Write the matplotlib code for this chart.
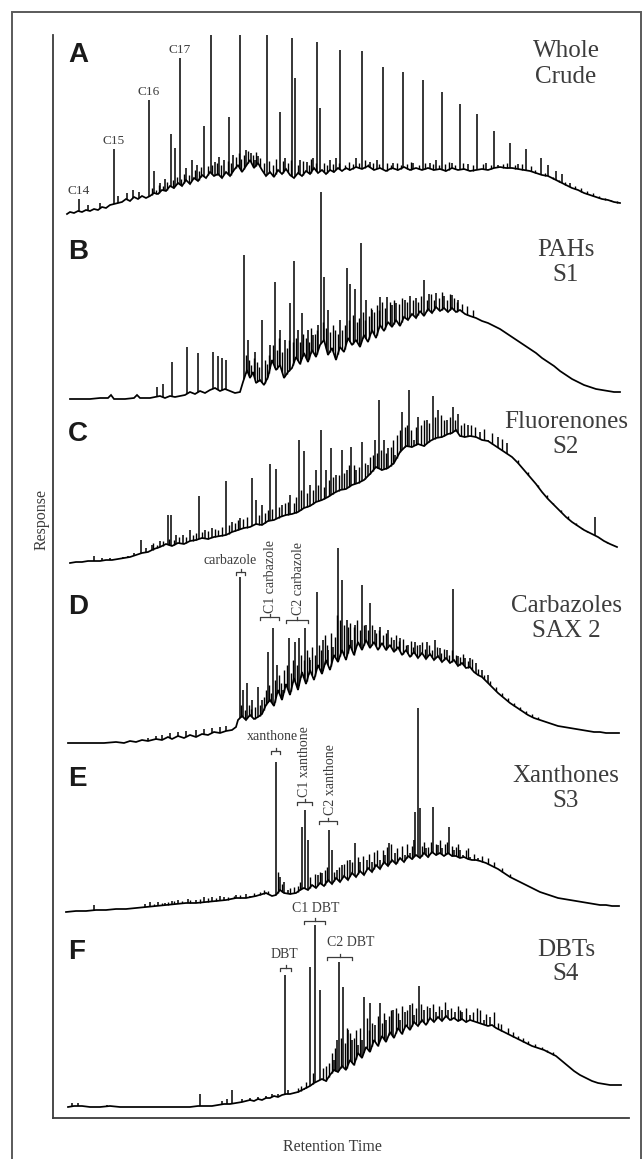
import numpy as np
import matplotlib
matplotlib.use("Agg")
import matplotlib.pyplot as plt
from matplotlib.patches import Rectangle

# ---------------- data: (retention time, response) ----------------
A_BASE = [(17,1),(20,3),(24,2),(28,4),(32,3),(36,5),(40,4),(44,6),(48,5),(52,8),(56,7),(60,10),(64,11),(68,12),(72,13),
          (76,16),(80,14),(84,18),(88,16),(92,19),(96,17),(100,19),(104,22),(108,21),(112,25),(116,24),(120,29),(124,27),
          (128,32),(132,29),(136,35),(140,31),(144,37),(148,34),(152,40),(156,37),(160,43),(164,39),(168,41),(172,37),
          (176,43),(180,39),(184,45),(188,50),(192,43),(196,49),(200,55),(204,47),(208,52),(212,45),(216,39),(220,43),
          (224,38),(228,45),(232,41),(236,46),(240,40),(244,37),(248,42),(252,39),(256,44),(260,41),(264,47),(268,42),
          (272,45),(276,41),(280,45),(284,43),(288,47),(292,44),(296,47),(300,45),(306,48),(312,46),(318,49),(324,45),
          (330,47),(336,44),(342,47),(348,45),(354,48),(360,45),(366,47),(372,45),(378,47),(384,45),(390,46),(396,44),
          (402,47),(408,45),(414,46),(420,44),(426,45),(432,46),(438,45),(444,47),(450,48),(456,47),(462,47),(468,46),
          (474,45),(480,44),(486,42),(492,40),(498,39),(504,36),(510,33),(516,30),(522,27),(528,25),(534,22),(540,20),
          (546,18),(552,16),(558,15),(564,13),(570,12)]
A_PEAKS = [(29,16),(64,66),(99,115),(130,157),(161,180),(190,192),(217,181),(242,177),(267,173),(290,165),(312,164),
           (333,148),(353,143),(373,135),(392,123),(410,111),(427,101),(444,84),(460,72),(476,66),(491,57),(498,50),
           (506,44),(512,41),(520,32),
           (104,44),(121,81),(125,67),(154,89),(179,98),(230,103),(245,137),(270,107),
           (38,10),(50,12),(68,19),(77,22),(83,25),(89,23),(110,32),(115,36),(136,47),(142,55),(147,50),(165,53),
           (169,58),(174,55),(183,60),(196,65),(201,62),(205,55),(208,59),(235,57),(250,55),(257,53),(263,57),
           (280,55),(286,57),(306,57),(320,53),(327,55),(343,52),(363,52),(380,52),(386,55),(402,52),(418,51),
           (436,52),(448,50),(468,51)]
A_NOISE = [(102,27),(106,25),(109,30),(113,29),(117,33),(123,35),(127,38),(131,36),(134,41),(139,40),(145,45),(149,44),
           (151,48),(158,49),(162,50),(167,52),(171,50),(178,54),(181,52),(186,58),(189,62),(191,56),(194,60),(198,64),
           (203,60),(206,63),(210,57),(214,52),(219,54),(223,50),(226,56),(233,54),(238,52),(241,55),(248,50),(253,54),
           (259,50),(261,56),(266,52),(274,52),(277,50),(283,51),(289,52),(295,50),(299,53),(303,51),(309,52),(315,55),
           (318,51),(323,52),(329,51),(337,52),(341,50),(347,52),(351,50),(357,51),(361,53),(369,50),(375,52),(383,51),
           (389,50),(395,51),(399,53),(405,50),(413,52),(423,50),(433,51),(441,50),(453,51),(457,52),(465,50),(472,51),
           (481,49),(485,45),(495,42),(503,38),(509,35),(515,33),(525,29),(531,27),(537,24),(543,22),(549,19),(555,17),
           (561,15),(567,14)]
A_ALKANES = ["C14", "C15", "C16", "C17"]

B_BASE = [(20,1),(30,1),(40,1),(50,2),(58,2),(61,5),(64,1),(75,1),(84,2),(87,5),(90,2),(100,2),(105,3),(110,4),(115,2),
          (120,4),(125,3),(130,4),(135,5),(140,8),(145,6),(150,9),(155,7),(160,10),(165,12),(170,9),(175,11),(180,9),
          (185,7),(190,8),(193,18),(197,30),(200,22),(203,28),(206,17),(210,20),(214,15),(218,23),(222,40),(226,30),
          (230,35),(234,22),(238,28),(242,32),(246,43),(250,36),(254,47),(258,38),(262,50),(266,43),(270,55),(274,60),
          (278,45),(282,52),(286,40),(290,53),(294,48),(298,62),(302,55),(306,60),(310,53),(314,65),(318,58),(322,70),
          (326,62),(330,75),(334,69),(338,78),(342,73),(346,80),(350,74),(354,83),(358,80),(362,86),(366,82),(370,89),
          (374,84),(378,91),(382,87),(386,93),(390,89),(394,92),(398,88),(402,92),(406,88),(410,90),(415,86),(420,84),
          (426,82),(432,79),(438,77),(444,74),(450,71),(456,67),(462,63),(468,59),(474,55),(480,51),(486,47),(492,42),
          (498,38),(504,34),(510,29),(516,25),(522,21),(528,18),(534,15),(540,13),(546,11),(552,10),(558,9),(564,8),
          (570,8)]
B_PEAKS = [(107,13),(113,16),(122,38),(137,53),(148,47),(163,48),(168,44),(172,42),(176,40),(194,145),(198,60),
           (205,48),(212,80),(220,55),(225,118),(230,70),(235,60),(240,97),(244,139),(248,70),(252,87),(258,70),
           (263,65),(268,75),(271,208),(274,123),(278,90),(290,80),(297,132),(300,116),(305,111),(311,157),(316,100),
           (322,90),(330,103),(337,103),(342,95),(346,97),(355,100),(360,104),(366,102),(374,120),(379,106),(386,107),
           (394,104),(402,105),(408,100)]
B_NOISE = [(196,45),(199,40),(201,35),(204,42),(207,38),(209,33),(215,40),(217,36),(219,45),(223,55),(227,50),(229,62),
           (232,48),(237,52),(239,60),(243,58),(246,62),(250,58),(253,66),(256,62),(259,58),(261,72),(265,66),(267,70),
           (273,78),(276,72),(280,68),(283,75),(285,70),(288,66),(292,70),(295,75),(299,80),(303,85),(307,78),(309,82),
           (313,88),(315,80),(319,84),(321,92),(324,88),(327,95),(329,90),(332,98),(335,92),(340,98),(344,100),(349,96),
           (352,102),(357,98),(363,100),(368,98),(371,104),(377,100),(381,106),(384,100),(389,102),(392,108),(397,100),
           (400,106),(404,102),(407,98),(412,96),(417,94),(423,90)]

C_BASE = [(20,2),(26,3),(32,3),(38,4),(44,4),(50,4),(56,5),(62,5),(68,6),(74,7),(80,8),(86,10),(92,12),(98,13),
          (104,16),(110,18),(116,21),(122,19),(128,22),(134,21),(140,24),(146,25),(152,27),(158,26),(164,28),(170,29),
          (176,30),(182,33),(188,35),(194,37),(200,38),(206,41),(212,40),(218,44),(224,45),(230,48),(236,50),(242,51),
          (248,53),(254,57),(260,59),(266,63),(272,65),(278,68),(284,72),(290,75),(296,76),(302,80),(308,82),(314,85),
          (320,91),(326,98),(332,95),(338,97),(344,102),(350,113),(356,119),(362,118),(368,121),(374,119),(380,124),
          (386,127),(392,128),(398,131),(402,132),(406,135),(410,129),(415,128),(420,129),(426,128),(432,125),(438,124),
          (444,120),(450,116),(456,112),(462,108),(468,102),(474,95),(480,88),(486,81),(492,73),(498,66),(504,60),
          (510,54),(516,48),(522,43),(528,39),(534,35),(540,32),(544,30),(548,28),(554,24),(560,21),(567,18)]
C_PEAKS = [(44,9),(52,7),(60,7),(73,8),(78,9),(84,12),(91,25),(96,17),(102,20),(110,24),(118,50),(121,50),(126,30),
           (133,30),(140,35),(149,69),(155,35),(162,37),(176,84),(182,43),(190,47),(202,87),(206,65),(212,60),(220,101),
           (226,96),(232,60),(240,70),(249,125),(254,114),(260,80),(266,95),(271,135),(276,95),(281,117),(286,90),
           (292,115),(297,95),(301,118),(306,95),(312,123),(318,100),(325,125),(329,165),(334,125),(338,117),(345,110),
           (352,153),(359,175),(364,125),(368,148),(377,145),(383,169),(388,155),(397,145),(403,158),(408,151),
           (418,140),(430,133),(438,125),(448,128),(457,122),(545,48)]
C_NOISE = [(103,22),(107,20),(113,24),(119,26),(124,25),(129,28),(136,28),(143,30),(146,32),(152,33),(158,34),(165,36),
           (168,35),(172,38),(179,40),(185,42),(188,45),(193,46),(197,48),(209,50),(215,52),(218,55),(222,56),(229,58),
           (235,62),(238,63),(244,62),(246,68),(251,75),(257,72),(263,75),(268,80),(274,78),(279,85),(283,88),(289,90),
           (294,92),(299,100),(304,100),(309,98),(315,102),(320,108),(323,110),(327,112),(331,115),(336,112),(341,118),
           (343,125),(347,130),(350,135),(355,138),(357,140),(361,135),(366,138),(371,140),(374,145),(379,142),(385,148),
           (391,150),(394,145),(400,148),(405,145),(411,140),(414,142),(421,140),(425,138),(434,136),(442,132),(452,126),
           (468,105),(478,93),(488,80),(497,70),(503,62),(511,55),(518,49),(526,42),(532,37),(537,34),(550,27),
           (557,23),(563,20)]

D_BASE = [(18,2),(30,2),(42,2),(54,2),(66,3),(74,2),(80,4),(86,3),(92,5),(98,4),(106,6),(112,5),(118,8),(122,6),(128,9),
          (134,7),(140,10),(146,8),(152,11),(158,10),(164,13),(170,12),(176,14),(182,15),(186,18),(188,25),(192,29),
          (196,25),(200,30),(204,26),(208,28),(212,31),(216,40),(220,45),(224,39),(228,55),(232,45),(236,61),(240,50),
          (244,67),(248,55),(252,73),(256,61),(260,75),(264,65),(268,80),(272,71),(276,85),(280,75),(284,90),(288,83),
          (292,95),(296,85),(300,100),(304,90),(308,103),(312,95),(316,105),(320,97),(324,103),(328,95),(332,102),
          (336,95),(340,100),(344,93),(348,98),(352,90),(356,95),(360,88),(364,93),(368,87),(372,92),(376,86),(380,91),
          (384,85),(388,89),(392,83),(396,87),(400,82),(404,85),(408,79),(412,82),(416,77),(420,78),(424,73),(428,70),
          (432,68),(436,64),(440,60),(444,56),(448,52),(454,47),(460,42),(466,38),(472,34),(478,30),(484,27),(490,25),
          (496,23),(502,21),(508,19),(514,18),(520,17),(526,16),(532,15),(538,14),(544,13),(550,13),(556,12),(562,12),
          (569,12)]
D_PEAKS = [(98,7),(106,9),(112,10),(120,12),(128,13),(136,14),(146,15),(154,16),(162,17),(170,18),(176,19),(190,168),
           (193,55),(197,62),(202,45),(208,58),(212,45),(218,93),(223,117),(227,80),(233,55),(239,107),(245,103),
           (249,107),(255,117),(260,85),(267,153),(273,105),(278,95),(283,98),(288,197),(292,165),(297,125),(302,105),
           (305,120),(312,160),(316,120),(320,142),(325,115),(330,118),(338,115),(344,105),(350,107),(358,100),
           (365,103),(370,100),(377,103),(385,105),(390,97),(397,95),(403,156),(408,89),(415,87),(420,87),(426,82),
           (432,75),(438,70)]
D_NOISE = [(191,40),(195,35),(199,40),(201,36),(205,38),(210,40),(214,48),(216,55),(219,60),(221,52),(225,65),(229,70),
           (231,62),(234,75),(237,80),(241,72),(243,85),(247,80),(251,90),(254,85),(257,95),(259,88),(262,98),(265,90),
           (269,100),(271,95),(275,110),(277,100),(281,112),(285,108),(287,130),(290,125),(294,120),(298,118),(300,122),
           (304,118),(307,125),(310,115),(314,120),(318,115),(322,120),(326,112),(329,115),(333,110),(336,112),(341,108),
           (346,110),(349,104),(353,106),(356,100),(361,104),(363,98),(367,100),(372,103),(375,96),(379,100),(382,95),
           (387,98),(391,92),(394,96),(399,90),(402,95),(406,90),(410,88),(413,91),(418,84),(422,86),(428,76),(434,70),
           (440,64),(446,58),(452,52),(458,47),(464,42),(470,38),(476,34),(482,31),(488,28)]

E_BASE = [(16,0),(26,1),(36,1),(46,2),(56,2),(66,3),(76,3),(86,4),(96,5),(106,6),(116,7),(126,8),(136,9),(146,9),
          (156,10),(166,11),(176,12),(186,14),(196,14),(206,16),(216,19),(222,16),(226,17),(230,22),(234,19),(240,18),
          (246,19),(250,22),(254,24),(258,22),(262,27),(266,24),(270,29),(274,26),(278,32),(282,28),(286,34),(290,30),
          (294,36),(298,32),(302,39),(306,35),(310,41),(314,37),(318,44),(322,40),(326,47),(330,43),(334,50),(338,46),
          (342,52),(346,48),(350,54),(354,50),(358,56),(362,53),(366,57),(370,54),(374,59),(378,55),(382,60),(386,57),
          (390,59),(394,56),(398,59),(402,56),(406,56),(410,54),(414,55),(418,53),(422,52),(426,52),(430,51),(436,49),
          (442,46),(448,43),(454,39),(460,35),(466,32),(472,29),(478,26),(484,23),(490,20),(496,18),(502,16),(508,14),
          (514,13),(520,12),(526,11),(532,10),(538,9),(544,8),(550,7),(556,7),(562,6),(569,6)]
E_PEAKS = [(44,7),(62,3),(80,4),(95,8),(100,10),(108,10),(115,9),(122,11),(128,12),(138,13),(146,12),(154,15),(162,15),
           (170,16),(174,15),(186,17),(196,18),(200,16),(226,150),(230,35),(234,30),(238,22),(252,85),(255,102),(258,72),
           (263,27),(268,37),(272,39),(279,82),(282,62),(287,42),(292,47),(300,52),(305,69),(310,50),(317,52),(322,50),
           (330,52),(335,57),(339,69),(345,59),(350,54),(355,57),(360,59),(364,72),(365,100),(368,204),(370,104),
           (376,64),(383,105),(388,67),(392,64),(399,85),(404,62),(410,62),(413,57),(420,55),(428,54)]
E_NOISE = [(104,8),(112,9),(118,10),(124,11),(132,11),(140,12),(150,13),(158,14),(166,14),(178,15),(184,16),(190,17),
           (204,19),(210,20),(214,22),(218,21),(228,40),(232,28),(240,24),(244,25),(248,26),(250,30),(260,35),(265,38),
           (270,40),(275,42),(277,45),(284,40),(289,45),(294,48),(297,52),(302,50),(308,55),(313,56),(319,58),(324,60),
           (327,62),(333,62),(337,65),(341,68),(347,64),(352,66),(357,68),(362,66),(372,66),(374,70),(378,65),(381,70),
           (386,68),(390,72),(395,68),(397,70),(402,66),(406,65),(408,68),(416,62),(418,64),(424,58),(432,56),(438,54),
           (444,50),(452,44),(460,38)]

F_BASE = [(18,1),(24,2),(32,2),(40,1),(50,1),(60,2),(70,1),(80,1),(90,1),(100,1),(110,1),(120,1),(130,1),(140,1),(148,2),
          (156,2),(162,2),(168,3),(174,4),(180,4),(186,5),(192,6),(196,7),(200,8),(204,7),(208,9),(212,8),(216,10),
          (220,10),(224,12),(228,11),(232,13),(236,14),(240,14),(244,15),(248,16),(252,18),(256,20),(260,22),(264,25),
          (268,27),(272,29),(276,27),(280,33),(284,38),(288,36),(292,42),(296,38),(300,48),(304,43),(308,55),(312,50),
          (316,61),(320,56),(324,68),(328,62),(332,72),(336,66),(340,76),(344,70),(348,80),(352,74),(356,83),(360,78),
          (364,86),(368,82),(372,88),(376,83),(380,90),(384,86),(388,91),(392,87),(396,92),(400,88),(404,90),(408,87),
          (412,89),(416,86),(420,88),(426,86),(432,84),(438,82),(442,83),(446,80),(452,77),(458,74),(464,71),(470,68),
          (476,65),(482,62),(488,60),(494,58),(500,55),(506,52),(512,47),(518,42),(524,37),(530,33),(536,30),(542,27),
          (548,25),(554,24),(560,23),(565,23),(571,23)]
F_PEAKS = [(22,5),(28,5),(57,3),(150,14),(172,7),(177,9),(182,18),(192,9),(200,10),(208,11),(216,12),(222,14),(228,14),
           (235,133),(238,18),(245,16),(254,18),(260,141),(265,183),(270,118),(284,48),(287,68),(289,146),(293,121),
           (298,78),(302,68),(308,63),(312,68),(314,111),(320,105),(325,83),(330,105),(336,88),(343,98),(350,88),
           (355,96),(360,103),(364,93),(369,122),(374,98),(380,100),(386,96),(392,98),(398,98),(405,96),(412,96),
           (420,93),(434,88),(440,91)]
F_NOISE = [(248,20),(251,22),(256,26),(263,35),(273,40),(276,42),(279,45),(282,55),(285,60),(291,70),(295,65),(297,80),
           (300,75),(304,70),(306,78),(310,80),(317,90),(319,78),(322,85),(328,92),(332,85),(334,95),(339,92),(341,98),
           (346,100),(348,95),(352,102),(357,98),(362,105),(366,100),(371,104),(377,102),(383,104),(389,102),(395,106),
           (401,100),(408,102),(410,98),(416,100),(423,96),(427,100),(430,98),(436,94),(444,96),(448,85),(451,84),
           (458,80),(463,76),(468,72),(473,70),(478,67),(485,64),(492,61),(497,58),(503,56)]

LETTERS = ["A", "B", "C", "D", "E", "F"]
TITLES = [("Whole", "Crude"), ("PAHs", "S1"), ("Fluorenones", "S2"),
          ("Carbazoles", "SAX 2"), ("Xanthones", "S3"), ("DBTs", "S4")]

# compound-group labels: (panel, text, label rt, label response, bracket rt start, bracket rt end, bracket response, rotated)
GROUPS = [
    ("D", "carbazole",    180, 185, 186, 195, 173, False),
    ("D", "C1 carbazole", 221, 132, 210, 229, 128, True),
    ("D", "C2 carbazole", 248, 130, 236, 258, 125, True),
    ("E", "xanthone",     222, 175, 221, 230, 161, False),
    ("E", "C1 xanthone",  255, 115, 247, 262, 110, True),
    ("E", "C2 xanthone",  281,  97, 269, 287,  91, True),
    ("F", "DBT",          234, 154, 230, 241, 140, False),
    ("F", "C1 DBT",       266, 200, 254, 275, 187, False),
    ("F", "C2 DBT",       301, 165, 277, 302, 151, False),
]

# ---------------- layout ----------------
W, H = 643, 1159
OFFSETS = {"A": 903, "B": 718, "C": 553, "D": 373, "E": 206, "F": 10}
LETTER_Y = {"A": 160, "B": 148, "C": 131, "D": 138, "E": 133, "F": 156}
TITLE_Y = {"A": (164, 138), "B": (150, 125), "C": (143, 118),
           "D": (139, 114), "E": (136, 111), "F": (158, 134)}

SERIF = ["Liberation Serif", "DejaVu Serif"]
SANS = ["Liberation Sans", "DejaVu Sans"]
LABEL_COLOR = "#3c3c3c"

fig = plt.figure(figsize=(W / 100, H / 100), dpi=100)
fig.add_artist(Rectangle((12 / W, -0.02), 629 / W, 1 - 12 / H + 0.02,
                         transform=fig.transFigure, fill=False, ec="#5a5a5a", lw=1.4))

ax = fig.add_axes([53 / W, 1 - 1118 / H, 576 / W, 1083 / H])
ax.set_xlim(3, 579)
ax.set_ylim(0, 1083)
for s in ("top", "right"):
    ax.spines[s].set_visible(False)
for s in ("left", "bottom"):
    ax.spines[s].set_color("#3a3a3a")
    ax.spines[s].set_linewidth(1.3)
ax.set_xticks([])
ax.set_yticks([])

DATA = {"A": (A_BASE, A_PEAKS, A_NOISE), "B": (B_BASE, B_PEAKS, B_NOISE),
        "C": (C_BASE, C_PEAKS, C_NOISE), "D": (D_BASE, D_PEAKS, D_NOISE),
        "E": (E_BASE, E_PEAKS, E_NOISE), "F": (F_BASE, F_PEAKS, F_NOISE)}

for letter, (title1, title2) in zip(LETTERS, TITLES):
    base, peaks, noise = DATA[letter]
    off = OFFSETS[letter]
    bx, by = (np.array(v, dtype=float) for v in zip(*base))
    ax.plot(bx, by + off, color="black", lw=1.25, solid_joinstyle="miter")
    for series, lw in ((peaks, 1.1), (noise, 1.0)):
        px, py = (np.array(v, dtype=float) for v in zip(*series))
        ax.vlines(px, np.interp(px, bx, by) + off, py + off, color="black", lw=lw)
    ax.text(18, LETTER_Y[letter] + off, letter, fontsize=20, fontweight="bold",
            family=SANS, ha="left", va="center", color="#1a1a1a")
    ax.text(516, TITLE_Y[letter][0] + off, title1, fontsize=18, family=SERIF,
            ha="center", va="center", color=LABEL_COLOR)
    ax.text(516, TITLE_Y[letter][1] + off, title2, fontsize=18, family=SERIF,
            ha="center", va="center", color=LABEL_COLOR)

# alkane labels over the first four n-alkane peaks of the whole crude
for name, (prt, pr) in zip(A_ALKANES, A_PEAKS[:4]):
    ax.text(prt, pr + OFFSETS["A"] + 2, name, fontsize=9.5, family=SERIF,
            ha="center", va="bottom", color=LABEL_COLOR)

for panel, text, trt, tr, b1, b2, br, rot in GROUPS:
    off = OFFSETS[panel]
    yb = br + off
    xc = (b1 + b2) / 2
    ax.plot([b1, b1, b2, b2], [yb - 3, yb, yb, yb - 3], color=LABEL_COLOR, lw=0.9)
    ax.plot([xc, xc], [yb, yb + 3], color=LABEL_COLOR, lw=0.9)
    if rot:
        ax.text(trt, tr + off, text, fontsize=10, family=SERIF, rotation=90,
                ha="center", va="bottom", color=LABEL_COLOR)
    else:
        ax.text(trt, tr + off, text, fontsize=10, family=SERIF,
                ha="center", va="center", color=LABEL_COLOR)

fig.text(42 / W, 1 - 520 / H, "Response", rotation=90, fontsize=11.5, family=SERIF,
         ha="center", va="center", color=LABEL_COLOR)
fig.text(332 / W, 1 - 1147 / H, "Retention Time", fontsize=11.5, family=SERIF,
         ha="center", va="center", color=LABEL_COLOR)

fig.savefig("out.png", dpi=100)
